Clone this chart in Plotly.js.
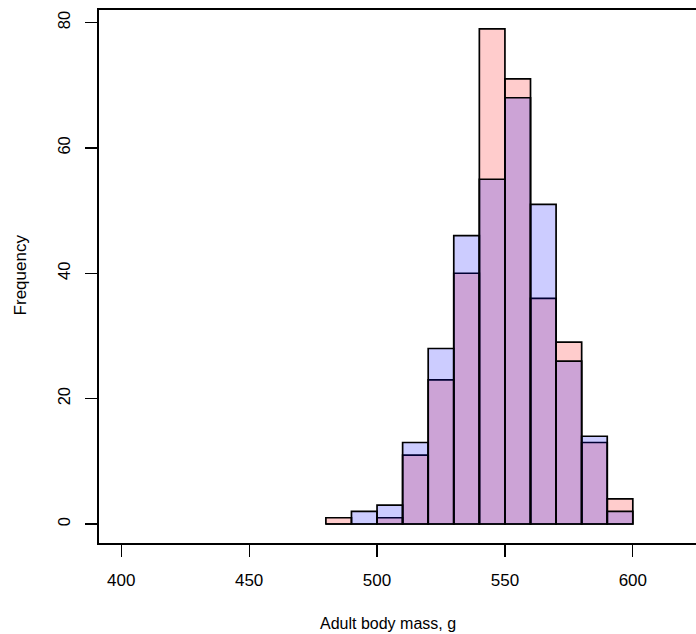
<!DOCTYPE html>
<html>
<head>
<meta charset="utf-8">
<script src="https://cdn.plot.ly/plotly-3.0.1.min.js"></script>
<style>
html, body { margin: 0; padding: 0; overflow: hidden; background: #fff; }
#chart { width: 720px; height: 634px; }
</style>
</head>
<body>
<div id="chart"></div>
<script>
// Bin lower edges (width 10 g)
const binStarts = [480, 490, 500, 510, 520, 530, 540, 550, 560, 570, 580, 590];
const binWidth = 10;
// Frequencies per bin
const redCounts  = [1, 0, 1, 11, 23, 40, 79, 71, 36, 29, 13, 4];
const blueCounts = [0, 2, 3, 13, 28, 46, 55, 68, 51, 26, 14, 2];
const xTicks = [400, 450, 500, 550, 600];
const yTicks = [0, 20, 40, 60, 80];

const centers = binStarts.map(b => b + binWidth / 2);

function barTrace(counts, color) {
  return {
    type: 'bar',
    x: centers,
    y: counts,
    width: binWidth,
    marker: { color: color, line: { color: '#000', width: 1.7 } },
    hoverinfo: 'x+y'
  };
}

const data = [
  barTrace(redCounts, 'rgba(255,0,0,0.2)'),
  barTrace(blueCounts, 'rgba(0,0,255,0.2)')
];

const font = { family: 'Liberation Sans, Arial, sans-serif', color: '#000' };

const layout = {
  width: 720, height: 634,
  margin: { l: 99, r: 13, t: 10, b: 91 },
  paper_bgcolor: '#fff', plot_bgcolor: '#fff',
  barmode: 'overlay',
  showlegend: false,
  font: Object.assign({ size: 17 }, font),
  xaxis: {
    range: [391.3, 629.0],
    tickvals: xTicks, ticktext: xTicks.map(String),
    ticks: 'outside', ticklen: 12, tickwidth: 1.3, tickcolor: '#000',
    showline: true, linecolor: '#000', linewidth: 1.6, mirror: true,
    showgrid: false, zeroline: false,
    ticklabelstandoff: 9,
    tickfont: Object.assign({ size: 17 }, font)
  },
  yaxis: {
    range: [-3.03, 82.0],
    tickvals: yTicks, ticktext: yTicks.map(String),
    tickangle: -90,
    ticks: 'outside', ticklen: 12, tickwidth: 1.3, tickcolor: '#000',
    showline: true, linecolor: '#000', linewidth: 1.6, mirror: true,
    showgrid: false, zeroline: false,
    ticklabelstandoff: 9,
    tickfont: Object.assign({ size: 16.5 }, font)
  },
  annotations: [
    { text: 'Adult body mass, g', xref: 'paper', yref: 'paper',
      x: (389 - 99) / 611, y: -(623 - 543) / 533, xanchor: 'center', yanchor: 'middle',
      showarrow: false, font: Object.assign({ size: 16 }, font) },
    { text: 'Frequency', xref: 'paper', yref: 'paper', textangle: -90,
      x: (20 - 99) / 611, y: (543 - 275) / 533, xanchor: 'center', yanchor: 'middle',
      showarrow: false, font: Object.assign({ size: 17 }, font) }
  ]
};

Plotly.newPlot('chart', data, layout, { displayModeBar: false, staticPlot: true });
</script>
</body>
</html>
